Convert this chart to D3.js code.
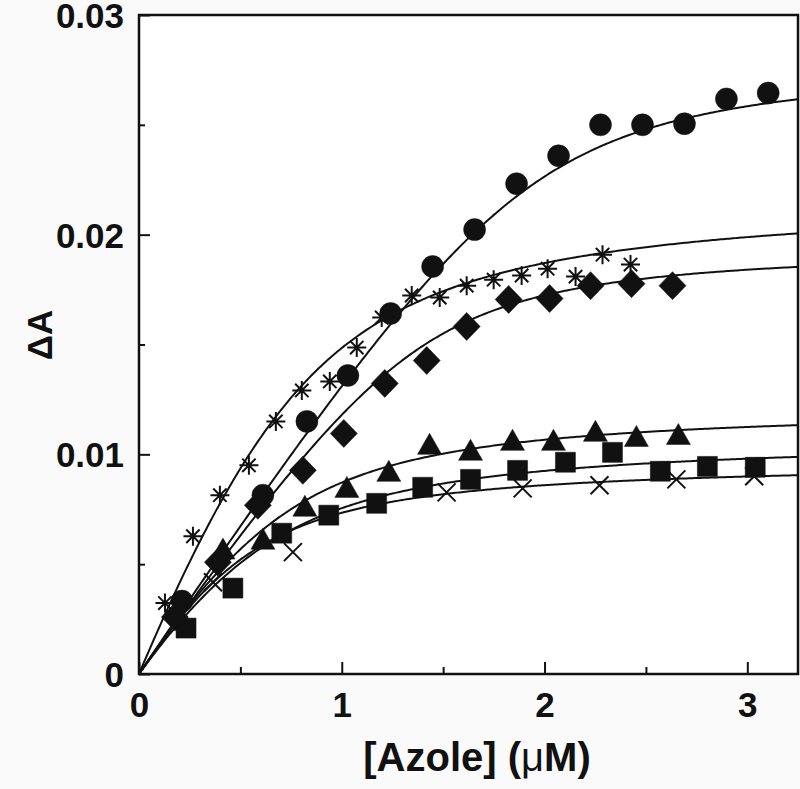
<!DOCTYPE html>
<html><head><meta charset="utf-8">
<script src="https://cdn.jsdelivr.net/npm/d3@7"></script>
<style>html,body{margin:0;padding:0;background:#fafafa;} svg{display:block;}</style>
</head><body><svg id="c" width="800" height="789"></svg>
<script>
// ---- data ----
const xTicks = [0, 1, 2, 3];
const xMinorTicks = [0.5, 1.5, 2.5];
const yTicks = [0, 0.01, 0.02, 0.03];
const yTickLabels = ["0", "0.01", "0.02", "0.03"];
const yMinorTicks = [0.005, 0.015, 0.025];

const circleX = [0.212, 0.611, 0.828, 1.030, 1.241, 1.448, 1.655, 1.862, 2.069, 2.276, 2.483, 2.690, 2.897, 3.103];
const circleY = [0.00332, 0.00814, 0.01150, 0.01359, 0.01641, 0.01855, 0.02023, 0.02232, 0.02359, 0.02500, 0.02500, 0.02505, 0.02618, 0.02645];

const asteriskX = [0.128, 0.266, 0.399, 0.542, 0.675, 0.803, 0.941, 1.074, 1.197, 1.345, 1.483, 1.616, 1.749, 1.887, 2.015, 2.153, 2.286, 2.424];
const asteriskY = [0.00323, 0.00627, 0.00814, 0.00950, 0.01150, 0.01291, 0.01332, 0.01486, 0.01623, 0.01723, 0.01714, 0.01768, 0.01795, 0.01814, 0.01845, 0.01809, 0.01909, 0.01864];

const diamondX = [0.177, 0.389, 0.586, 0.808, 1.010, 1.212, 1.419, 1.616, 1.823, 2.025, 2.227, 2.429, 2.631];
const diamondY = [0.00259, 0.00509, 0.00768, 0.00927, 0.01095, 0.01323, 0.01427, 0.01582, 0.01705, 0.01709, 0.01768, 0.01777, 0.01768];

const triangleX = [0.414, 0.611, 0.818, 1.025, 1.232, 1.433, 1.635, 1.842, 2.044, 2.251, 2.453, 2.660];
const triangleY = [0.00564, 0.00609, 0.00759, 0.00845, 0.00918, 0.01041, 0.01014, 0.01059, 0.01059, 0.01100, 0.01077, 0.01086];

const squareX = [0.232, 0.463, 0.704, 0.936, 1.172, 1.399, 1.635, 1.867, 2.103, 2.335, 2.571, 2.803, 3.039];
const squareY = [0.00209, 0.00391, 0.00641, 0.00723, 0.00777, 0.00850, 0.00886, 0.00927, 0.00964, 0.01009, 0.00923, 0.00945, 0.00941];

const crossX = [0.365, 0.759, 1.517, 1.892, 2.271, 2.650, 3.034];
const crossY = [0.00418, 0.00555, 0.00827, 0.00845, 0.00859, 0.00886, 0.00900];

// tight-binding fit parameters per series: [Amax, Etotal, Kd]
const circleFit = [0.0280, 1.95, 0.10];
const asteriskFit = [0.0218, 0.78, 0.22];
const diamondFit = [0.0195, 1.40, 0.10];
const triangleFit = [0.0122, 0.70, 0.20];
const squareFit = [0.0108, 0.60, 0.25];
const crossFit = [0.0097, 0.50, 0.20];

const xDomain = [0, 3.25];
const yDomain = [0, 0.03];

// ---- layout ----
const svg = d3.select("#c");
const L = 139, R = 798, T = 15, B = 674;
const x = d3.scaleLinear().domain(xDomain).range([L, R]);
const y = d3.scaleLinear().domain(yDomain).range([B, T]);
const FONT = "'Liberation Sans', Arial, Helvetica, sans-serif";
const INK = "#111";

svg.append("rect").attr("x", L).attr("y", T).attr("width", R - L).attr("height", B - T).attr("fill", "#fff");

svg.append("defs").append("clipPath").attr("id", "clip")
  .append("rect").attr("x", L).attr("y", T).attr("width", R - L).attr("height", B - T);

// fit curves (Morrison quadratic binding equation)
function morrison(p, c) {
  const [A, E, K] = p;
  const s = E + c + K;
  return A * (s - Math.sqrt(s * s - 4 * E * c)) / (2 * E);
}
const fits = [circleFit, asteriskFit, diamondFit, triangleFit, squareFit, crossFit];
const grid = d3.range(0, xDomain[1] + 0.005, 0.01);
const line = d3.line().x(d => x(d[0])).y(d => y(d[1]));
const gCurves = svg.append("g").attr("clip-path", "url(#clip)");
fits.forEach(p => {
  gCurves.append("path")
    .attr("d", line(grid.map(c => [c, morrison(p, c)])))
    .attr("fill", "none").attr("stroke", INK).attr("stroke-width", 2);
});

// marker shapes
const shapes = {
  circle: "M11,0A11,11,0,1,1,-11,0A11,11,0,1,1,11,0Z",
  diamond: "M0,-14L13.5,0L0,14L-13.5,0Z",
  triangle: "M0,-12L12,9L-12,9Z",
  square: "M-10,-10H10V10H-10Z",
  cross: "M-9,-9L9,9M-9,9L9,-9",
  asterisk: "M0,-9.5V9.5M-9.5,0H9.5M-6.7,-6.7L6.7,6.7M-6.7,6.7L6.7,-6.7"
};
function drawSeries(xs, ys, shape, filled) {
  const g = svg.append("g");
  g.selectAll("path").data(xs.map((v, i) => [v, ys[i]])).join("path")
    .attr("transform", d => `translate(${x(d[0])},${y(d[1])})`)
    .attr("d", shapes[shape])
    .attr("fill", filled ? INK : "none")
    .attr("stroke", INK)
    .attr("stroke-width", filled ? 0.5 : 2);
}
drawSeries(crossX, crossY, "cross", false);
drawSeries(triangleX, triangleY, "triangle", true);
drawSeries(squareX, squareY, "square", true);
drawSeries(asteriskX, asteriskY, "asterisk", false);
drawSeries(diamondX, diamondY, "diamond", true);
drawSeries(circleX, circleY, "circle", true);

// frame
svg.append("rect").attr("x", L).attr("y", T).attr("width", R - L).attr("height", B - T)
  .attr("fill", "none").attr("stroke", INK).attr("stroke-width", 2.5);

// ticks (inward)
const gx = svg.append("g").attr("transform", `translate(0,${B})`)
  .call(d3.axisBottom(x).tickValues(xTicks).tickSize(-12).tickFormat(d3.format("d")).tickSizeOuter(0));
const gxm = svg.append("g").attr("transform", `translate(0,${B})`)
  .call(d3.axisBottom(x).tickValues(xMinorTicks).tickSize(-7).tickFormat("").tickSizeOuter(0));
const gy = svg.append("g").attr("transform", `translate(${L},0)`)
  .call(d3.axisLeft(y).tickValues(yTicks).tickSize(-11).tickFormat((d, i) => yTickLabels[i]).tickSizeOuter(0));
const gym = svg.append("g").attr("transform", `translate(${L},0)`)
  .call(d3.axisLeft(y).tickValues(yMinorTicks).tickSize(-6).tickFormat("").tickSizeOuter(0));
[gx, gxm, gy, gym].forEach(g => {
  g.select(".domain").remove();
  g.selectAll(".tick line").attr("stroke", INK).attr("stroke-width", 2);
  g.selectAll("text").attr("font-family", FONT).attr("font-weight", "bold")
    .attr("font-size", 35).attr("fill", INK);
});
gx.selectAll(".tick text").attr("y", 18).attr("dy", "0.71em");
gy.selectAll(".tick text").attr("x", -15).attr("dy", "0.36em");

// axis titles
svg.append("text").attr("x", 477).attr("y", 771).attr("text-anchor", "middle")
  .attr("font-family", FONT).attr("font-weight", "bold").attr("font-size", 40).attr("fill", INK)
  .text("[Azole] (").append("tspan").attr("font-weight", "normal").text("μ")
  .select(function () { return this.parentNode; }).append("tspan").text("M)");
svg.append("text").attr("transform", "translate(52,335) rotate(-90)").attr("text-anchor", "middle")
  .attr("font-family", FONT).attr("font-weight", "bold").attr("font-size", 35).attr("fill", INK)
  .text("ΔA");
</script>
</body></html>
